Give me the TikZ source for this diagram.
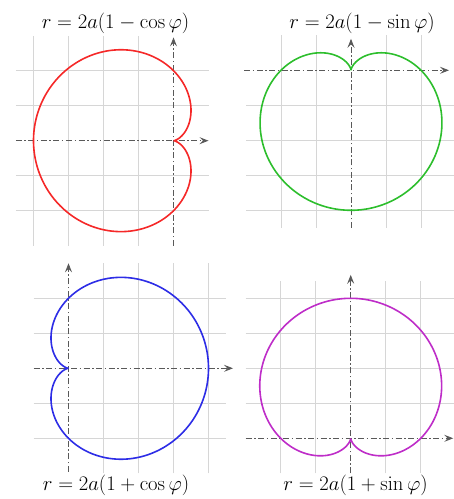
\documentclass[tikz,border=0pt]{standalone}
\usetikzlibrary{arrows.meta}
\definecolor{cred}{RGB}{245,40,40}
\definecolor{cgreen}{RGB}{45,190,45}
\definecolor{cblue}{RGB}{45,45,230}
\definecolor{cmag}{RGB}{190,45,200}
\begin{document}
\begin{tikzpicture}[x=1bp,y=1bp,
  gridline/.style={draw=black!16, line width=0.8bp},
  axisline/.style={draw=black!65, line width=0.9bp,
    dash pattern=on 6bp off 2.5bp on 1.5bp off 2.5bp,
    -{Stealth[length=9bp,width=7bp,inset=3.5bp]}},
  curve/.style={line width=1.6bp},
  title/.style={font=\fontsize{20}{24}\selectfont, inner sep=0pt}]
\useasboundingbox (0,0) rectangle (454,499);

% Panel 1: r = 2a(1 - cos phi)
\begin{scope}[shift={(173.5,358.3)}, x=35bp, y=35bp]
  \foreach \i in {-4,...,-1} \draw[gridline] (\i,-3) -- (\i,3);
  \foreach \j in {-2,-1,1,2} \draw[gridline] (-4.5,\j) -- (1,\j);
  \coordinate (a1l) at (-4.5,0); \coordinate (a1r) at (1,0);
  \coordinate (a1b) at (0,-3);   \coordinate (a1t) at (0,2.95);
  \draw[axisline] (a1l) -- (a1r);
  \draw[axisline] (a1b) -- (a1t);
  \draw[curve, cred] plot[domain=0:360, samples=361] (\x:{2*(1-cos(\x))});
\end{scope}

% Panel 2: r = 2a(1 - sin phi)
\begin{scope}[shift={(351,428.7)}, x=35bp, y=35bp]
  \foreach \i in {-2,-1,1,2} \draw[gridline] (\i,-4.5) -- (\i,1);
  \foreach \j in {-4,...,-1} \draw[gridline] (-3,\j) -- (3,\j);
  \coordinate (a2l) at (-3.05,0); \coordinate (a2r) at (2.8,0);
  \coordinate (a2b) at (0,-4.5);  \coordinate (a2t) at (0,0.9);
  \draw[axisline] (a2l) -- (a2r);
  \draw[axisline] (a2b) -- (a2t);
  \draw[curve, cgreen] plot[domain=0:360, samples=361] (\x:{2*(1-sin(\x))});
\end{scope}

% Panel 3: r = 2a(1 + cos phi)
\begin{scope}[shift={(68.5,130.7)}, x=35bp, y=35bp]
  \foreach \i in {1,...,4} \draw[gridline] (\i,-3) -- (\i,3);
  \foreach \j in {-2,-1,1,2} \draw[gridline] (-1,\j) -- (4.5,\j);
  \coordinate (a3l) at (-1,0);   \coordinate (a3r) at (4.7,0);
  \coordinate (a3b) at (0,-2.95); \coordinate (a3t) at (0,3);
  \draw[axisline] (a3l) -- (a3r);
  \draw[axisline] (a3b) -- (a3t);
  \draw[curve, cblue] plot[domain=0:360, samples=361] (\x:{2*(1+cos(\x))});
\end{scope}

% Panel 4: r = 2a(1 + sin phi)
\begin{scope}[shift={(350.7,60.7)}, x=35bp, y=35bp]
  \foreach \i in {-2,-1,1,2} \draw[gridline] (\i,-1) -- (\i,4.5);
  \foreach \j in {1,...,4} \draw[gridline] (-3,\j) -- (3,\j);
  \coordinate (a4l) at (-3,0);  \coordinate (a4r) at (2.93,0);
  \coordinate (a4b) at (0,-1);  \coordinate (a4t) at (0,4.67);
  \draw[axisline] (a4l) -- (a4r);
  \draw[axisline] (a4b) -- (a4t);
  \draw[curve, cmag] plot[domain=0:360, samples=361] (\x:{2*(1+sin(\x))});
\end{scope}

\node[title] (t1) at (115.5,476) {$r=2a(1-\cos\varphi)$};
\node[title] (t2) at (362,476) {$r=2a(1-\sin\varphi)$};
\node[title] (t3) at (116,14) {$r=2a(1+\cos\varphi)$};
\node[title] (t4) at (355.5,14) {$r=2a(1+\sin\varphi)$};
\end{tikzpicture}
\end{document}
